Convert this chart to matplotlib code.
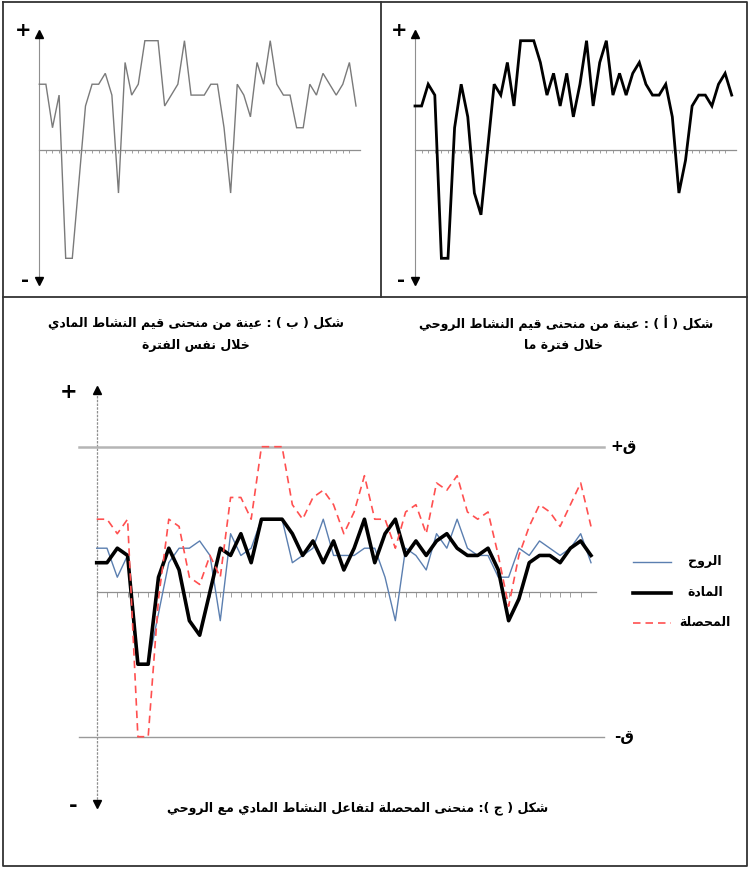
import matplotlib
matplotlib.use("Agg")
import matplotlib.pyplot as plt
import numpy as np


# ── Data (units on a -10..10 scale) ────────────────────────────────────────

points = list(range(49))

# shape (a): spiritual activity, thick black
curve_a = [4, 4, 6, 5, -10, -10, 2, 6, 3, -4, -6, 0, 6, 5, 8, 4, 10, 10, 10, 8,
           5, 7, 4, 7, 3, 6, 10, 4, 8, 10, 5, 7, 5, 7, 8, 6, 5, 5, 6, 3,
           -4, -1, 4, 5, 5, 4, 6, 7, 5]

# shape (b): material activity, thin grey
curve_b = [6, 6, 2, 5, -10, -10, -3, 4, 6, 6, 7, 5, -4, 8, 5, 6, 10, 10, 10, 4,
           5, 6, 10, 5, 5, 5, 6, 6, 2, -4, 6, 5, 3, 8, 6, 10, 6, 5, 5, 2,
           2, 6, 5, 7, 6, 5, 6, 8, 4]

# shape (c): resultant, red dashed (-20..20 scale)
curve_c = [10, 10, 8, 10, -20, -20, -1, 10, 9, 2, 1, 5, 2, 13, 13, 10, 20, 20, 20, 12,
           10, 13, 14, 12, 8, 11, 16, 10, 10, 6, 11, 12, 8, 15, 14, 16, 11, 10, 11, 5,
           -2, 5, 9, 12, 11, 9, 12, 15, 9]

legend_labels = ["الروح", "المادة", "المحصلة"]

cap_a = ["شكل ( أ ) : عينة من منحنى قيم النشاط الروحي", "خلال فترة ما"]
cap_b = ["شكل ( ب ) : عينة من منحنى قيم النشاط المادي", "خلال نفس الفترة"]
cap_c = "شكل ( ج ): منحنى المحصلة لتفاعل النشاط المادي مع الروحي"


# ── Arabic shaping (matplotlib has no bidi / joining) ──────────────────────

FORMS = {
    'ا': ('\uFE8D', '\uFE8E', None, None),
    'أ': ('\uFE83', '\uFE84', None, None),
    'ب': ('\uFE8F', '\uFE90', '\uFE91', '\uFE92'),
    'ة': ('\uFE93', '\uFE94', None, None),
    'ت': ('\uFE95', '\uFE96', '\uFE97', '\uFE98'),
    'ج': ('\uFE9D', '\uFE9E', '\uFE9F', '\uFEA0'),
    'ح': ('\uFEA1', '\uFEA2', '\uFEA3', '\uFEA4'),
    'خ': ('\uFEA5', '\uFEA6', '\uFEA7', '\uFEA8'),
    'د': ('\uFEA9', '\uFEAA', None, None),
    'ر': ('\uFEAD', '\uFEAE', None, None),
    'س': ('\uFEB1', '\uFEB2', '\uFEB3', '\uFEB4'),
    'ش': ('\uFEB5', '\uFEB6', '\uFEB7', '\uFEB8'),
    'ص': ('\uFEB9', '\uFEBA', '\uFEBB', '\uFEBC'),
    'ط': ('\uFEC1', '\uFEC2', '\uFEC3', '\uFEC4'),
    'ع': ('\uFEC9', '\uFECA', '\uFECB', '\uFECC'),
    'ف': ('\uFED1', '\uFED2', '\uFED3', '\uFED4'),
    'ق': ('\uFED5', '\uFED6', '\uFED7', '\uFED8'),
    'ك': ('\uFED9', '\uFEDA', '\uFEDB', '\uFEDC'),
    'ل': ('\uFEDD', '\uFEDE', '\uFEDF', '\uFEE0'),
    'م': ('\uFEE1', '\uFEE2', '\uFEE3', '\uFEE4'),
    'ن': ('\uFEE5', '\uFEE6', '\uFEE7', '\uFEE8'),
    'و': ('\uFEED', '\uFEEE', None, None),
    'ى': ('\uFEEF', '\uFEF0', None, None),
    'ي': ('\uFEF1', '\uFEF2', '\uFEF3', '\uFEF4'),
}
LAM_ALEF = {'ا': ('\uFEFB', '\uFEFC'), 'أ': ('\uFEF7', '\uFEF8')}


def shape(text):
    items = []
    i = 0
    while i < len(text):
        c = text[i]
        if c == 'ل' and i + 1 < len(text) and text[i + 1] in LAM_ALEF:
            items.append(('LA', text[i + 1]))
            i += 2
        else:
            items.append((c, None))
            i += 1

    def joins_next(it):
        return it[0] in FORMS and FORMS[it[0]][2] is not None

    def is_ar(it):
        return it[0] == 'LA' or it[0] in FORMS

    out = []
    for k, (c, extra) in enumerate(items):
        prev_ok = k > 0 and joins_next(items[k - 1])
        next_ok = k + 1 < len(items) and is_ar(items[k + 1])
        if c == 'LA':
            out.append(LAM_ALEF[extra][1 if prev_ok else 0])
        elif c in FORMS:
            iso, fin, ini, med = FORMS[c]
            if ini is None:
                out.append(fin if prev_ok else iso)
            elif prev_ok and next_ok:
                out.append(med)
            elif prev_ok:
                out.append(fin)
            elif next_ok:
                out.append(ini)
            else:
                out.append(iso)
        else:
            out.append(c)
    s = ''.join(out)[::-1]
    return s.translate(str.maketrans('()', ')('))


# ── Layout helpers (pixels, origin top-left) ───────────────────────────────

W, H = 750, 869
FONT = dict(family='DejaVu Sans', weight='bold', color='black')

fig = plt.figure(figsize=(W / 100, H / 100), dpi=100)
fig.patch.set_facecolor('white')


def px_axes(x0, x1, y_top, y_bot):
    return fig.add_axes([x0 / W, 1 - y_bot / H, (x1 - x0) / W, (y_bot - y_top) / H])


def px_text(x, y, s, size, ha='center'):
    fig.text(x / W, 1 - y / H, s, ha=ha, va='center', fontsize=size, **FONT)


bg = fig.add_axes([0, 0, 1, 1])
bg.set_xlim(0, W)
bg.set_ylim(H, 0)
bg.axis('off')
frame = dict(color='#333333', lw=1.3)
bg.plot([3, 747, 747, 3, 3], [2, 2, 866, 866, 2], **frame)
bg.plot([3, 747], [297, 297], **frame)
bg.plot([381, 381], [2, 297], **frame)

AXIS_GREY = '#8f8f8f'


# ── Small panels (a) and (b) ───────────────────────────────────────────────

def small_panel(x0, x1, values, color, lw):
    ax = px_axes(x0, x1, 40.7, 258.3)
    ax.set_xlim(0, 48)
    ax.set_ylim(-10, 10)
    ax.axis('off')
    ax.plot([0, 0], [-12.0, 10.5], color=AXIS_GREY, lw=0.8, clip_on=False)
    ax.plot(0, 10.6, marker='^', color='black', ms=5.5, clip_on=False)
    ax.plot(0, -12.1, marker='v', color='black', ms=5.5, clip_on=False)
    ax.plot([0, 48.6], [0, 0], color=AXIS_GREY, lw=0.9, clip_on=False)
    ax.vlines(np.arange(49), -0.35, 0, color=AXIS_GREY, lw=0.6)
    ax.plot(points, values, color=color, lw=lw, clip_on=False,
            solid_joinstyle='miter')
    return ax


small_panel(39.3, 356, curve_b, '#7a7a7a', 1.0)
small_panel(415, 731.7, curve_a, 'black', 2.0)

px_text(23, 30, '+', 14)
px_text(25, 281, '-', 14)
px_text(399, 30, '+', 14)
px_text(401, 281, '-', 14)

px_text(196, 323, shape(cap_b[0]), 9)
px_text(196, 346, shape(cap_b[1]), 9)
px_text(566, 323, shape(cap_a[0]), 9)
px_text(563, 346, shape(cap_a[1]), 9)


# ── Panel (c) ──────────────────────────────────────────────────────────────

ax = px_axes(96.7, 591, 446.7, 736.7)
ax.set_xlim(0, 48)
ax.set_ylim(-20, 20)
ax.axis('off')

ax.plot([0, 0], [-29.2, 27.6], color=AXIS_GREY, lw=0.9, ls=(0, (2, 1)), clip_on=False)
ax.plot(0, 27.8, marker='^', color='black', ms=6, clip_on=False)
ax.plot(0, -29.3, marker='v', color='black', ms=6, clip_on=False)
ax.plot([-1.7, 49.3], [20, 20], color='#b5b5b5', lw=1.8, clip_on=False)
ax.plot([-1.7, 49.3], [-20, -20], color='#9a9a9a', lw=1.0, clip_on=False)
ax.plot([0, 48.5], [0, 0], color=AXIS_GREY, lw=0.9, clip_on=False)
ax.vlines(np.arange(49), -0.7, 0, color=AXIS_GREY, lw=0.6)

ax.plot(points, curve_b, color='#5b7fb0', lw=1.0, clip_on=False, zorder=3)
ax.plot(points, curve_a, color='black', lw=2.6, clip_on=False, zorder=4)
ax.plot(points, curve_c, color='#ff5050', lw=1.2, dashes=(4.5, 3),
        clip_on=False, zorder=5)

px_text(624, 447, shape("ق+"), 11)
px_text(624, 737, shape("ق-"), 11)
px_text(69, 392, '+', 15)
px_text(73, 806, '-', 15)

# legend, drawn by hand
leg_styles = [dict(color='#5b7fb0', lw=1.0),
              dict(color='black', lw=2.6),
              dict(color='#ff5050', lw=1.2, dashes=(4.5, 3))]
for k, (lab, st) in enumerate(zip(legend_labels, leg_styles)):
    y = 562 + 30.5 * k
    bg.plot([633, 671], [y, y], **st)
    px_text(705, y - 1, shape(lab), 9)

px_text(358, 808, shape(cap_c), 9)

fig.savefig('out.png', dpi=100, facecolor='white')
